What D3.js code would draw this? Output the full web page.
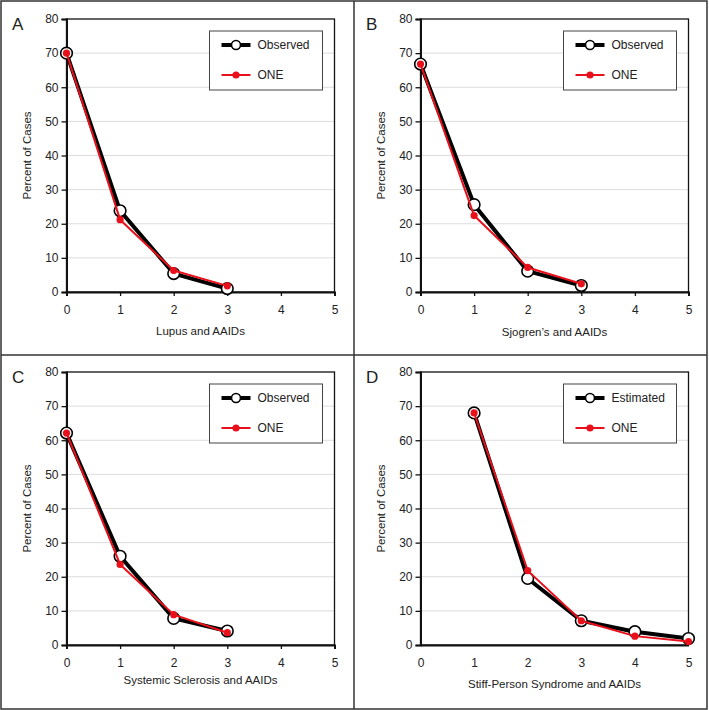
<!DOCTYPE html>
<html>
<head>
<meta charset="utf-8">
<script src="https://cdn.jsdelivr.net/npm/d3@7"></script>
<style>
  body { margin: 0; background: #fff; }
  text { font-family: "Liberation Sans", Arial, Helvetica, sans-serif; fill: #222; }
</style>
</head>
<body>
<script>
// panel data
const panelLetters = ['A', 'B', 'C', 'D'];
const xTitles = ['Lupus and AAIDs', 'Sjogren\u2019s and AAIDs', 'Systemic Sclerosis and AAIDs', 'Stiff-Person Syndrome and AAIDs'];
const legendNames = ['Observed', 'Observed', 'Observed', 'Estimated'];
const xTicks = [0, 1, 2, 3, 4, 5];
const yTicks = [0, 10, 20, 30, 40, 50, 60, 70, 80];

const xA = [0, 1, 2, 3];
const obsA = [70.0, 23.8, 5.4, 1.0];
const oneA = [70.0, 21.2, 6.3, 1.8];

const xB = [0, 1, 2, 3];
const obsB = [66.8, 25.6, 6.1, 1.9];
const oneB = [66.8, 22.4, 7.2, 2.4];

const xC = [0, 1, 2, 3];
const obsC = [62.1, 26.0, 7.8, 4.1];
const oneC = [62.1, 23.6, 8.9, 3.6];

const xD = [1, 2, 3, 4, 5];
const obsD = [68.0, 19.5, 7.1, 3.9, 1.9];
const oneD = [68.0, 21.8, 7.1, 2.6, 1.0];

const panels = [
    {x: xA, obs: obsA, one: oneA, ox: 0, oy: 0, top: 19, titleY: 335, xTickMarks: true},
    {x: xB, obs: obsB, one: oneB, ox: 354, oy: 0, top: 19, titleY: 336, xTickMarks: true},
    {x: xC, obs: obsC, one: oneC, ox: 0, oy: 355, top: 17, titleY: 329, xTickMarks: true},
    {x: xD, obs: obsD, one: oneD, ox: 354, oy: 355, top: 17, titleY: 333, xTickMarks: false},
];

const W = 709, H = 710;
const svg = d3.select('body').append('svg')
    .attr('width', W).attr('height', H);

function drawPanel(p, i)
{
    const left = 66.5, width = 268, height = 273;
    const g = svg.append('g').attr('transform', `translate(${p.ox},${p.oy})`);
    const scX = d3.scaleLinear().domain([0, 5]).range([left, left + width]);
    const scY = d3.scaleLinear().domain([0, 80]).range([p.top + height, p.top]);

    // grid
    g.append('g').selectAll('line')
        .data(yTicks.slice(1, -1)).enter().append('line')
        .attr('x1', left).attr('x2', left + width)
        .attr('y1', d => scY(d)).attr('y2', d => scY(d))
        .attr('stroke', '#dcdcdc').attr('stroke-width', 1);

    // frame
    g.append('rect')
        .attr('x', left).attr('y', p.top)
        .attr('width', width).attr('height', height)
        .attr('fill', 'none').attr('stroke', '#111').attr('stroke-width', 1.3);

    const yAxis = d3.axisLeft(scY).tickValues(yTicks).tickFormat(d3.format('d'))
        .tickSize(5).tickPadding(3);
    const ya = g.append('g').attr('transform', `translate(${left},0)`).call(yAxis);
    ya.select('.domain').attr('stroke', '#111').attr('stroke-width', 2);
    ya.selectAll('.tick line').attr('stroke', '#111').attr('stroke-width', 1.3);
    ya.selectAll('text').attr('font-size', 12).attr('fill', '#222')
        .attr('font-family', '"Liberation Sans", Arial, sans-serif');

    const xAxis = d3.axisBottom(scX).tickValues(xTicks).tickFormat(d3.format('d'))
        .tickSize(p.xTickMarks ? 4 : 0).tickPadding(p.xTickMarks ? 9 : 13);
    const xa = g.append('g').attr('transform', `translate(0,${p.top + height})`).call(xAxis);
    xa.select('.domain').attr('stroke', '#111').attr('stroke-width', 2);
    xa.selectAll('.tick line').attr('stroke', '#111').attr('stroke-width', 1.3);
    xa.selectAll('text').attr('font-size', 12).attr('fill', '#222')
        .attr('font-family', '"Liberation Sans", Arial, sans-serif');

    // titles
    g.append('text')
        .attr('x', left + width / 2).attr('y', p.titleY)
        .attr('text-anchor', 'middle').attr('font-size', 11.5)
        .text(xTitles[i]);
    g.append('text')
        .attr('transform', `translate(31,${p.top + height / 2}) rotate(-90)`)
        .attr('text-anchor', 'middle').attr('font-size', 11.5)
        .text('Percent of Cases');
    g.append('text')
        .attr('x', 12).attr('y', p.top + 11)
        .attr('font-size', 17)
        .text(panelLetters[i]);

    const obsPts = p.x.map((x, k) => ({x: x, y: p.obs[k]}));
    const onePts = p.x.map((x, k) => ({x: x, y: p.one[k]}));
    const line = d3.line().x(d => scX(d.x)).y(d => scY(d.y));

    g.append('path').attr('d', line(obsPts))
        .attr('fill', 'none').attr('stroke', '#000').attr('stroke-width', 4)
        .attr('stroke-linejoin', 'round');
    g.append('g').selectAll('circle')
        .data(obsPts).enter().append('circle')
        .attr('cx', d => scX(d.x)).attr('cy', d => scY(d.y)).attr('r', 5.8)
        .attr('fill', '#fff').attr('stroke', '#000').attr('stroke-width', 1.6);
    g.append('path').attr('d', line(onePts))
        .attr('fill', 'none').attr('stroke', '#e8101a').attr('stroke-width', 2)
        .attr('stroke-linejoin', 'round');
    g.append('g').selectAll('circle')
        .data(onePts).enter().append('circle')
        .attr('cx', d => scX(d.x)).attr('cy', d => scY(d.y)).attr('r', 3.6)
        .attr('fill', '#e8101a');

    // legend
    const lx = left + width - 125, ly = p.top + 12;
    const lg = g.append('g');
    lg.append('rect')
        .attr('x', lx).attr('y', ly).attr('width', 113).attr('height', 59)
        .attr('fill', '#fff').attr('stroke', '#444').attr('stroke-width', 1);
    lg.append('line')
        .attr('x1', lx + 12).attr('x2', lx + 41).attr('y1', ly + 14).attr('y2', ly + 14)
        .attr('stroke', '#000').attr('stroke-width', 4);
    lg.append('circle')
        .attr('cx', lx + 26.5).attr('cy', ly + 14).attr('r', 4.5)
        .attr('fill', '#fff').attr('stroke', '#000').attr('stroke-width', 1.6);
    lg.append('text')
        .attr('x', lx + 48).attr('y', ly + 18).attr('font-size', 12)
        .text(legendNames[i]);
    lg.append('line')
        .attr('x1', lx + 12).attr('x2', lx + 41).attr('y1', ly + 44).attr('y2', ly + 44)
        .attr('stroke', '#e8101a').attr('stroke-width', 2);
    lg.append('circle')
        .attr('cx', lx + 26.5).attr('cy', ly + 44).attr('r', 3.6)
        .attr('fill', '#e8101a');
    lg.append('text')
        .attr('x', lx + 48).attr('y', ly + 48).attr('font-size', 12)
        .text('ONE');
}

panels.forEach(drawPanel);

// outer frame and dividers
svg.append('rect')
    .attr('x', 1).attr('y', 1).attr('width', 706).attr('height', 708)
    .attr('fill', 'none').attr('stroke', '#333').attr('stroke-width', 1.5);
svg.append('line').attr('x1', 354).attr('x2', 354).attr('y1', 1).attr('y2', 709)
    .attr('stroke', '#333').attr('stroke-width', 1.5);
svg.append('line').attr('x1', 1).attr('x2', 707).attr('y1', 355).attr('y2', 355)
    .attr('stroke', '#333').attr('stroke-width', 1.5);
</script>
</body>
</html>
